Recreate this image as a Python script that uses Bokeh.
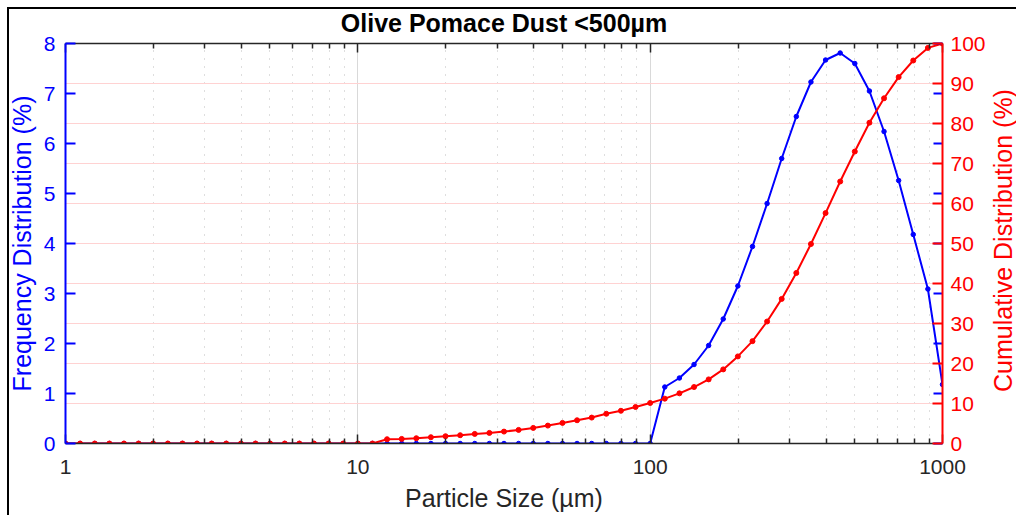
import math
from bokeh.plotting import figure
from bokeh.layouts import row
from bokeh.models import (Range1d, LinearAxis, LogAxis, FixedTicker, Grid, Label,
                          NumeralTickFormatter, CustomJSTickFormatter, ColumnDataSource,
                          InlineStyleSheet)
from bokeh.embed import file_html
from bokeh.resources import INLINE

TITLE = "Olive Pomace Dust <500µm"
X_LABEL = "Particle Size (µm)"
Y_LEFT_LABEL = "Frequency Distribution (%)"
Y_RIGHT_LABEL = "Cumulative Distribution (%)"

particle_size = [1, 1.122, 1.259, 1.413, 1.585, 1.778, 1.995, 2.239, 2.512, 2.818,
                 3.162, 3.548, 3.981, 4.467, 5.012, 5.623, 6.310, 7.079, 7.943, 8.913,
                 10, 11.22, 12.59, 14.13, 15.85, 17.78, 19.95, 22.39, 25.12, 28.18,
                 31.62, 35.48, 39.81, 44.67, 50.12, 56.23, 63.10, 70.79, 79.43, 89.13,
                 100, 112.2, 125.9, 141.3, 158.5, 177.8, 199.5, 223.9, 251.2, 281.8,
                 316.2, 354.8, 398.1, 446.7, 501.2, 562.3, 631.0, 707.9, 794.3, 891.3,
                 1000]

frequency = [0, 0, 0, 0, 0, 0, 0, 0, 0, 0,
             0, 0, 0, 0, 0, 0, 0, 0, 0, 0,
             0, 0, 0, 0, 0, 0, 0, 0, 0, 0,
             0, 0, 0, 0, 0, 0, 0, 0, 0, 0,
             0, 1.13, 1.31, 1.58, 1.96, 2.49, 3.15, 3.94, 4.80, 5.70,
             6.54, 7.23, 7.67, 7.81, 7.60, 7.05, 6.24, 5.26, 4.18, 3.09,
             1.18]

cumulative = [0, 0, 0, 0, 0, 0, 0, 0, 0, 0,
              0, 0, 0, 0, 0, 0, 0, 0, 0, 0,
              0, 0, 1.07, 1.15, 1.32, 1.57, 1.82, 2.07, 2.40, 2.65,
              2.98, 3.40, 3.90, 4.48, 5.15, 5.81, 6.48, 7.43, 8.18, 9.13,
              10.13, 11.21, 12.54, 14.12, 16.03, 18.53, 21.77, 25.59, 30.5, 36.15,
              42.64, 49.87, 57.6, 65.5, 73.0, 80.2, 86.3, 91.6, 95.75, 98.9,
              100.0]

x_major_ticks = [1, 10, 100, 1000]
x_minor_ticks = [2, 3, 4, 5, 6, 7, 8, 9,
                 20, 30, 40, 50, 60, 70, 80, 90,
                 200, 300, 400, 500, 600, 700, 800, 900]
left_ticks = [0, 1, 2, 3, 4, 5, 6, 7, 8]
right_ticks = [0, 10, 20, 30, 40, 50, 60, 70, 80, 90, 100]
right_grid_ticks = [10, 20, 30, 40, 50, 60, 70, 80, 90]

FONT = "Liberation Sans"
BLUE = "#0000ff"
RED = "#ff0000"
DARK = "#262626"
TICK_FS = "21px"
LABEL_FS = "25px"

fig = figure(width=988, height=515, x_axis_type="log",
             x_range=Range1d(1, 1000), y_range=Range1d(0, 8),
             output_backend="svg", toolbar_location=None,
             min_border_left=65, min_border_right=44, min_border_top=42, min_border_bottom=72,
             title=TITLE)
fig.extra_y_ranges = {"right": Range1d(0, 100)}
fig.outline_line_color = None
fig.background_fill_color = "white"
fig.border_fill_color = "white"
fig.stylesheets = [InlineStyleSheet(css=(
    ":host{position:relative;}"
    ":host::after{content:'';position:absolute;left:7px;top:7px;right:0;bottom:0;"
    "border-left:2px solid #000000;border-top:2px solid #000000;"
    "pointer-events:none;z-index:10;}"))]

# title
fig.title.text_font = FONT
fig.title.text_font_size = "25px"
fig.title.text_font_style = "bold"
fig.title.text_color = "#000000"
fig.title.align = "center"
fig.title.standoff = 13

# grids
fig.ygrid.visible = False
xg = fig.xgrid[0]
xg.ticker = FixedTicker(ticks=x_major_ticks, minor_ticks=x_minor_ticks)
xg.grid_line_color = "#d9d9d9"
xg.grid_line_width = 1
xg.minor_grid_line_color = "#bdbdbd"
xg.minor_grid_line_dash = "1 7"
xg.minor_grid_line_width = 1
rgrid = Grid(dimension=1, ticker=FixedTicker(ticks=right_grid_ticks), y_range_name="right",
             grid_line_color="#ffd2d2", grid_line_width=1)
fig.add_layout(rgrid)

# bottom axis
xa = fig.xaxis[0]
xa.ticker = FixedTicker(ticks=x_major_ticks, minor_ticks=x_minor_ticks)
xa.formatter = NumeralTickFormatter(format="0")
xa.major_tick_in = 9
xa.major_tick_out = 0
xa.minor_tick_in = 5
xa.minor_tick_out = 0
xa.axis_line_color = DARK
xa.axis_line_width = 1.5
xa.major_tick_line_color = DARK
xa.major_tick_line_width = 1.5
xa.minor_tick_line_color = DARK
xa.minor_tick_line_width = 1.5
xa.major_label_text_font = FONT
xa.major_label_text_font_size = TICK_FS
xa.major_label_text_color = DARK
xa.major_label_text_line_height = 1.0
xa.major_label_standoff = 16
xa.axis_label = X_LABEL
xa.axis_label_text_font = FONT
xa.axis_label_text_font_size = LABEL_FS
xa.axis_label_text_font_style = "normal"
xa.axis_label_text_color = DARK
xa.axis_label_text_line_height = 1.0
xa.axis_label_standoff = 7

# top axis (ticks only)
top = LogAxis(ticker=FixedTicker(ticks=x_major_ticks, minor_ticks=x_minor_ticks),
              formatter=CustomJSTickFormatter(code="return ''"),
              major_tick_in=9, major_tick_out=0, minor_tick_in=5, minor_tick_out=0,
              axis_line_color=DARK, axis_line_width=1.5,
              major_tick_line_color=DARK, major_tick_line_width=1.5,
              minor_tick_line_color=DARK, minor_tick_line_width=1.5,
              major_label_text_font_size="0px", major_label_standoff=0)
fig.add_layout(top, "above")

# left axis
ya = fig.yaxis[0]
ya.ticker = FixedTicker(ticks=left_ticks)
ya.major_tick_in = 10
ya.major_tick_out = 0
ya.minor_tick_line_color = None
ya.axis_line_color = BLUE
ya.axis_line_width = 2
ya.major_tick_line_color = BLUE
ya.major_tick_line_width = 2
ya.major_label_text_font = FONT
ya.major_label_text_font_size = TICK_FS
ya.major_label_text_color = BLUE
ya.major_label_standoff = 10
ya.axis_label = Y_LEFT_LABEL
ya.axis_label_text_font = FONT
ya.axis_label_text_font_size = LABEL_FS
ya.axis_label_text_font_style = "normal"
ya.axis_label_text_color = BLUE
ya.axis_label_text_line_height = 1.0
ya.axis_label_standoff = 5

# right side: blue ticks mirrored, then red axis
blue_right = LinearAxis(ticker=FixedTicker(ticks=left_ticks),
                        formatter=CustomJSTickFormatter(code="return ''"),
                        major_tick_in=9, major_tick_out=0,
                        minor_tick_line_color=None, axis_line_color=None,
                        major_tick_line_color=BLUE, major_tick_line_width=2,
                        major_label_text_font_size="0px", major_label_standoff=0)
fig.add_layout(blue_right, "right")

red_axis = LinearAxis(y_range_name="right", ticker=FixedTicker(ticks=right_ticks),
                      major_tick_in=10, major_tick_out=0,
                      minor_tick_line_color=None,
                      axis_line_color=RED, axis_line_width=2,
                      major_tick_line_color=RED, major_tick_line_width=2,
                      major_label_text_font=FONT, major_label_text_font_size=TICK_FS,
                      major_label_text_color=RED, major_label_standoff=8)
fig.add_layout(red_axis, "right")

# data
src = ColumnDataSource(dict(size=particle_size, freq=frequency, cum=cumulative))
fig.line("size", "freq", source=src, line_color=BLUE, line_width=2)
fig.scatter("size", "freq", source=src, size=4.5, color=BLUE)
fig.line("size", "cum", source=src, line_color=RED, line_width=2, y_range_name="right")
fig.scatter("size", "cum", source=src, size=5, color=RED, y_range_name="right")

# narrow strip on the right holding the right-axis title (reads bottom to top)
side = figure(width=28, height=515, x_range=Range1d(0, 1), y_range=Range1d(0, 1),
              x_axis_location=None, y_axis_location=None,
              output_backend="svg", toolbar_location=None, min_border=0)
side.outline_line_color = None
side.grid.visible = False
side.background_fill_color = "white"
side.border_fill_color = "white"
side.stylesheets = [InlineStyleSheet(css=(
    ":host{position:relative;}"
    ":host::after{content:'';position:absolute;left:0;top:7px;right:0;bottom:0;"
    "border-top:2px solid #000000;pointer-events:none;z-index:10;}"))]
side.add_layout(Label(x=0, y=203, x_units="screen", y_units="screen",
                      text=Y_RIGHT_LABEL, angle=math.pi / 2,
                      text_align="center", text_baseline="top",
                      text_font=FONT, text_font_size=LABEL_FS, text_color=RED))

p = row(fig, side)
open("out.html", "w").write(file_html(p, INLINE))
